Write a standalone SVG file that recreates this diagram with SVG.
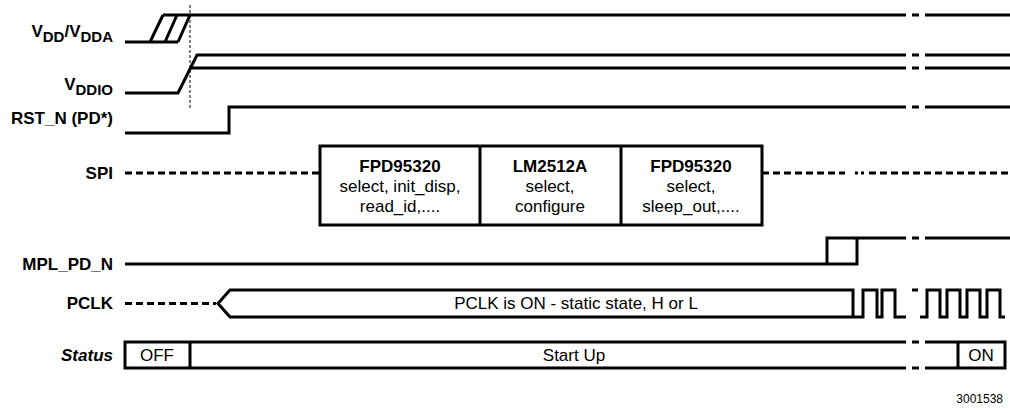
<svg xmlns="http://www.w3.org/2000/svg" width="1010" height="413" viewBox="0 0 1010 413">
<style>
.lbl{font-family:"Liberation Sans",Arial,sans-serif;font-weight:bold;font-size:17px;text-anchor:end;fill:#000}
.txt{font-family:"Liberation Sans",Arial,sans-serif;font-size:17px;text-anchor:middle;fill:#000}
.b{font-weight:bold}
.sig{fill:none;stroke:#000;stroke-width:3;stroke-linejoin:miter;stroke-linecap:butt}
.dash{fill:none;stroke:#000;stroke-width:3;stroke-dasharray:7 4}
.guide{fill:none;stroke:#000;stroke-width:1;stroke-dasharray:3 2}
</style>
<rect width="1010" height="413" fill="#fff"/>
<g id="vdd">
<text class="lbl" x="113" y="37">V<tspan font-size="15" dy="5">DD</tspan><tspan dy="-5">/V</tspan><tspan font-size="15" dy="5">DDA</tspan></text>
<path class="sig" d="M125,42H178M163,15H906M150,42L163,15M165,42L177,15M178,42L190,15M912,15H919M925,15H1010"/>
</g>
<g id="vddio">
<text class="lbl" x="113" y="90">V<tspan font-size="15" dy="5">DDIO</tspan></text>
<path class="sig" d="M125,93H178L197,55H906M190.5,68H906M912,55H919M912,68H919M925,55H1010M925,68H1010"/>
</g>
<path id="por-guide" class="guide" d="M190,5V108"/>
<g id="rst">
<text class="lbl" x="113" y="124">RST_N (PD*)</text>
<path class="sig" d="M125,133H229V107H906M912,107H919M925,107H1010"/>
</g>
<g id="spi">
<text class="lbl" x="113" y="179">SPI</text>
<path class="dash" d="M125,173H320M762,173H845M869,173H1010"/>
<path class="sig" d="M855,173H858M861,173H864" stroke-width="2"/>
<rect class="sig" x="320" y="146" width="442" height="79"/>
<path class="sig" d="M480,146V225M621,146V225"/>
<text class="txt b" x="400" y="172">FPD95320</text>
<text class="txt" x="400" y="192">select, init_disp,</text>
<text class="txt" x="400" y="212">read_id,....</text>
<text class="txt b" x="550" y="172">LM2512A</text>
<text class="txt" x="550" y="192">select,</text>
<text class="txt" x="550" y="212">configure</text>
<text class="txt b" x="691" y="172">FPD95320</text>
<text class="txt" x="691" y="192">select,</text>
<text class="txt" x="691" y="212">sleep_out,....</text>
</g>
<g id="mpl">
<text class="lbl" x="113" y="270">MPL_PD_N</text>
<path class="sig" d="M125,264H857V238M827,264V238H906M912,238H919M925,238H1010"/>
</g>
<g id="pclk">
<text class="lbl" x="113" y="309">PCLK</text>
<path class="dash" d="M125,303.5H216"/>
<path class="sig" d="M853,290H230L218,303.5L230,317H853ZM853,317H863V290H877V317H882V290H895V317H906M912,290H918M920,317H927V290H940V317H947V290H960V317H967V290H980V317H987V290H1000V317H1005"/>
<text class="txt" x="576" y="309">PCLK is ON - static state, H or L</text>
</g>
<g id="status">
<text class="lbl" x="113" y="361" font-style="italic">Status</text>
<path class="sig" d="M906,342H125V368H906M190,342V368M912,342H919M912,368H919M925,342H1005V368H925M958,342V368"/>
<text class="txt" x="157" y="361">OFF</text>
<text class="txt" x="574" y="361">Start Up</text>
<text class="txt" x="981" y="361">ON</text>
</g>
<text id="fig-id" x="1003" y="403" style="font-family:'Liberation Sans',Arial,sans-serif;font-size:12px;text-anchor:end">3001538</text>
</svg>
